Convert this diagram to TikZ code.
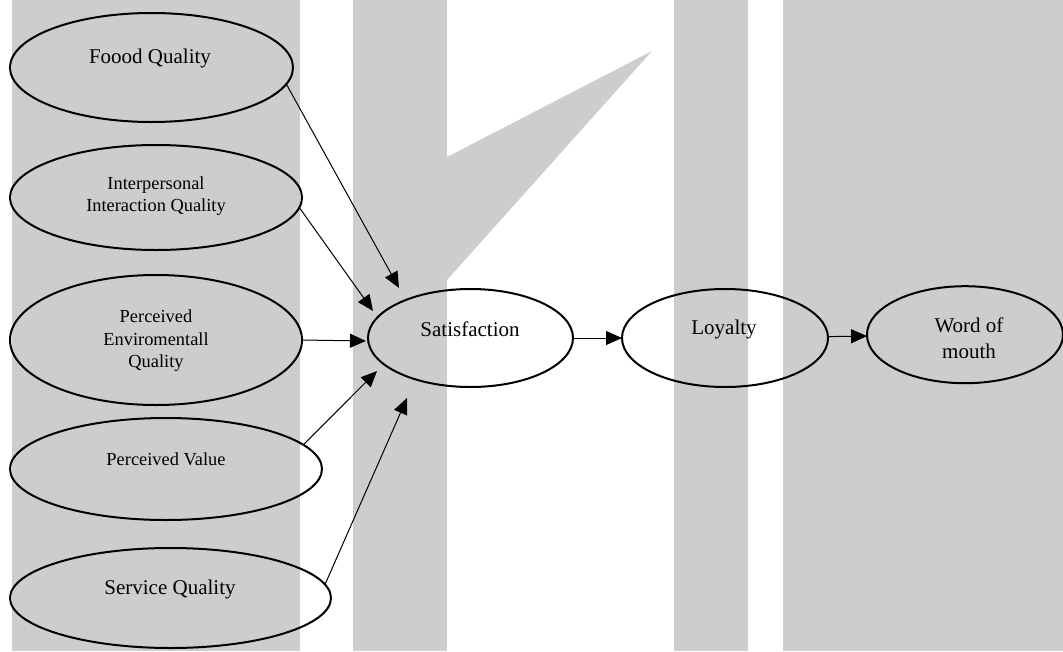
\documentclass[tikz,border=0pt]{standalone}
\usepackage{fontspec}
\setmainfont{Liberation Serif}
\usetikzlibrary{arrows.meta,shapes.geometric}
\definecolor{bandgray}{RGB}{205,205,205}
\begin{document}
\begin{tikzpicture}[x=1pt,y=-1pt,
  oval/.style={ellipse, draw, line width=2pt, inner sep=0pt, outer sep=0pt},
  big/.style={font=\fontsize{21}{26}\selectfont, align=center, inner sep=0pt},
  small/.style={font=\fontsize{18.4}{22.5}\selectfont, align=center, inner sep=0pt},
  link/.style={line width=1pt, -{Triangle[length=16pt,width=14pt]}}]
\useasboundingbox (0,0) rectangle (1063,651);

% background bands
\fill[bandgray] (12,0) rectangle (300,651);
\fill[bandgray] (353,0) rectangle (447,651);
\fill[bandgray] (447,157) -- (652,51) -- (447,280) -- cycle;
\fill[bandgray] (674,0) rectangle (748,651);
\fill[bandgray] (783,0) rectangle (1063,651);

% constructs
\node[oval, minimum width=283pt, minimum height=109pt] (food) at (151.5,67.5) {};
\node[oval, minimum width=292pt, minimum height=105pt] (inter) at (156,197.5) {};
\node[oval, minimum width=292pt, minimum height=130pt] (penv) at (156,340) {};
\node[oval, minimum width=312pt, minimum height=102pt] (pval) at (166,469) {};
\node[oval, minimum width=321pt, minimum height=100pt] (serv) at (170.5,598) {};
\node[oval, minimum width=205pt, minimum height=98pt] (sat) at (470.5,338) {};
\node[oval, minimum width=206pt, minimum height=98pt] (loy) at (725,338) {};
\node[oval, minimum width=196pt, minimum height=97pt] (wom) at (965,334.7) {};

% labels
\node[big] (food-t) at (150,58) {Foood Quality};
\node[small] (inter-t) at (156,196) {Interpersonal\\Interaction Quality};
\node[small] (penv-t) at (156,341) {Perceived\\Enviromentall\\Quality};
\node[small] (pval-t) at (166,459) {Perceived Value};
\node[big] (serv-t) at (170,589) {Service Quality};
\node[big] (sat-t) at (470,329) {Satisfaction};
\node[big] (loy-t) at (724,329) {Loyalty};
\node[big] (wom-t) at (969,338) {Word of\\mouth};

% arrow ends near Satisfaction
\coordinate (t1) at (399,288);
\coordinate (t2) at (373,311);
\coordinate (t3) at (366,341);
\coordinate (t4) at (377,371);
\coordinate (t5) at (407,398);

% paths
\draw[link] (food.-7) -- (t1);
\draw[link] (inter.-4) -- (t2);
\draw[link] (penv.0) -- (t3);
\draw[link] (pval.10) -- (t4);
\draw[link] (serv.5) -- (t5);
\draw[link] (sat) -- (loy);
\draw[link] (loy) -- (wom);
\end{tikzpicture}
\end{document}
